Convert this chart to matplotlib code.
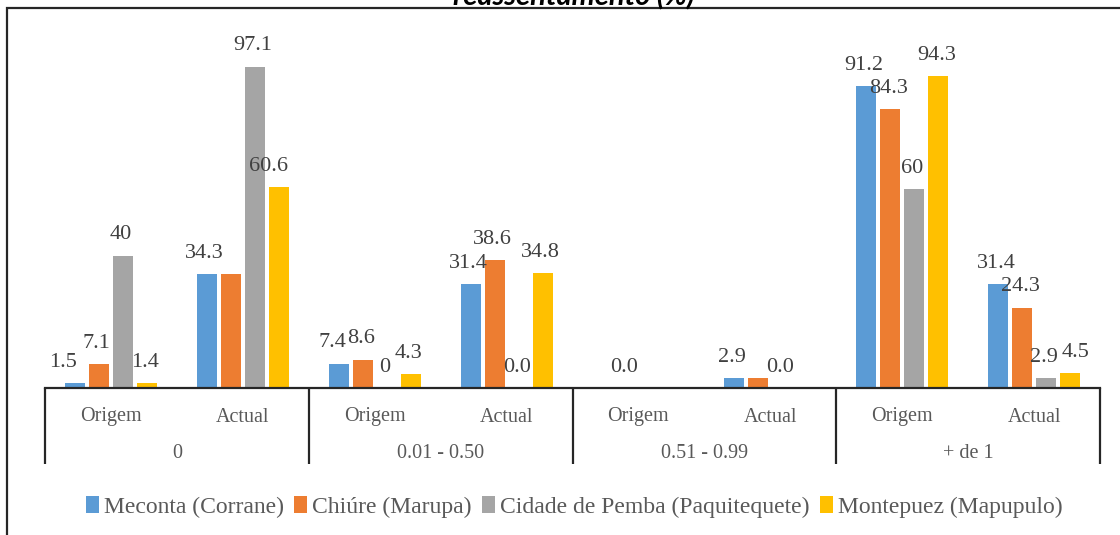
import numpy as np
import matplotlib
matplotlib.use('Agg')
import matplotlib.pyplot as plt
from matplotlib.patches import Rectangle
import matplotlib.transforms as mtransforms

# data
groups = ['0', '0.01 - 0.50', '0.51 - 0.99', '+ de 1']
subcats = ['Origem', 'Actual'] * 4
series = ['Meconta (Corrane)', 'Chiúre (Marupa)', 'Cidade de Pemba (Paquitequete)', 'Montepuez (Mapupulo)']

meconta = [1.5, 34.3, 7.4, 31.4, 0, 2.9, 91.2, 31.4]
chiure = [7.1, 34.3, 8.6, 38.6, 0, 2.9, 84.3, 24.3]
pemba = [40, 97.1, 0, 0, 0, 0, 60, 2.9]
montepuez = [1.4, 60.6, 4.3, 34.8, 0, 0, 94.3, 4.5]

# label text as printed on the chart (None = no label shown)
meconta_lbl = ['1.5', '34.3', '7.4', '31.4', None, '2.9', '91.2', '31.4']
chiure_lbl = ['7.1', None, '8.6', '38.6', '0.0', None, '84.3', '24.3']
pemba_lbl = ['40', '97.1', '0', '0.0', None, '0.0', '60', '2.9']
montepuez_lbl = ['1.4', '60.6', '4.3', '34.8', None, None, '94.3', '4.5']

values = [meconta, chiure, pemba, montepuez]
labels = [meconta_lbl, chiure_lbl, pemba_lbl, montepuez_lbl]
colors = ['#5B9BD5', '#ED7D31', '#A5A5A5', '#FFC000']

# small horizontal nudges (px) where Excel moved labels apart
nudge = {(0, 0): -12, (0, 2): -6, (3, 1): -10, (3, 7): 6}

plt.rcParams['font.family'] = ['Liberation Serif', 'DejaVu Serif']

W, H = 1120, 535
fig = plt.figure(figsize=(W / 100, H / 100), dpi=100)

# plot area in pixels
left, right, base, top = 45, 1100, 388, 57
ax = fig.add_axes([left / W, (H - base) / H, (right - left) / W, (base - top) / H])
ax.set_xlim(-0.5, 7.5)
ax.set_ylim(0, 100)

x = np.arange(8)
unit = (right - left) / 8.0
bw = 20 / unit
step = 24 / unit
for i, (vals, lbls, c) in enumerate(zip(values, labels, colors)):
    xs = x + (i - 1.5) * step
    ax.bar(xs, vals, width=bw, color=c, label=series[i], zorder=2)
    for j, (xi, v, t) in enumerate(zip(xs, vals, lbls)):
        if t is None:
            continue
        dx = nudge.get((i, j), -2) * 0.72
        ax.annotate(t, (xi, v), xytext=(dx, 8), textcoords='offset points',
                    ha='center', va='bottom', fontsize=16, color='#404040')

for s in ['top', 'right', 'left']:
    ax.spines[s].set_visible(False)
ax.spines['bottom'].set_color('#262626')
ax.spines['bottom'].set_linewidth(1.6)
ax.set_yticks([])
ax.set_xticks([])

axh = base - top
trans = mtransforms.blended_transform_factory(ax.transData, ax.transAxes)
for xv in [-0.5, 1.5, 3.5, 5.5, 7.5]:
    ax.plot([xv, xv], [0, -76 / axh], transform=trans, color='#262626', lw=1.6,
            clip_on=False, solid_capstyle='butt')
for xi, s in zip(x, subcats):
    ax.text(xi, -29 / axh, s, transform=trans, ha='center', va='center',
            fontsize=14.5, color='#595959')
for gi, g in enumerate(groups):
    ax.text(2 * gi + 0.5, -66 / axh, g, transform=trans, ha='center', va='center',
            fontsize=14.5, color='#595959')

fig.legend(loc='center', bbox_to_anchor=(574 / W, (H - 507) / H), ncol=4, frameon=False,
           fontsize=17, handlelength=0.55, handleheight=0.7, handletextpad=0.2,
           columnspacing=0.45, labelcolor='#595959')

# chart frame (cropped on right and bottom)
fig.patches.append(Rectangle((7 / W, -0.05), 1.2, 1.05 - 8 / H, transform=fig.transFigure,
                             fill=False, edgecolor='#262626', lw=1.6))

fig.text(574 / W, 1 - 5 / H, 'reassentamento (%)', ha='center', va='baseline',
         fontsize=21, fontweight='bold', fontstyle='italic', family=['Lato', 'DejaVu Sans'])

fig.savefig('out.png', dpi=100)
